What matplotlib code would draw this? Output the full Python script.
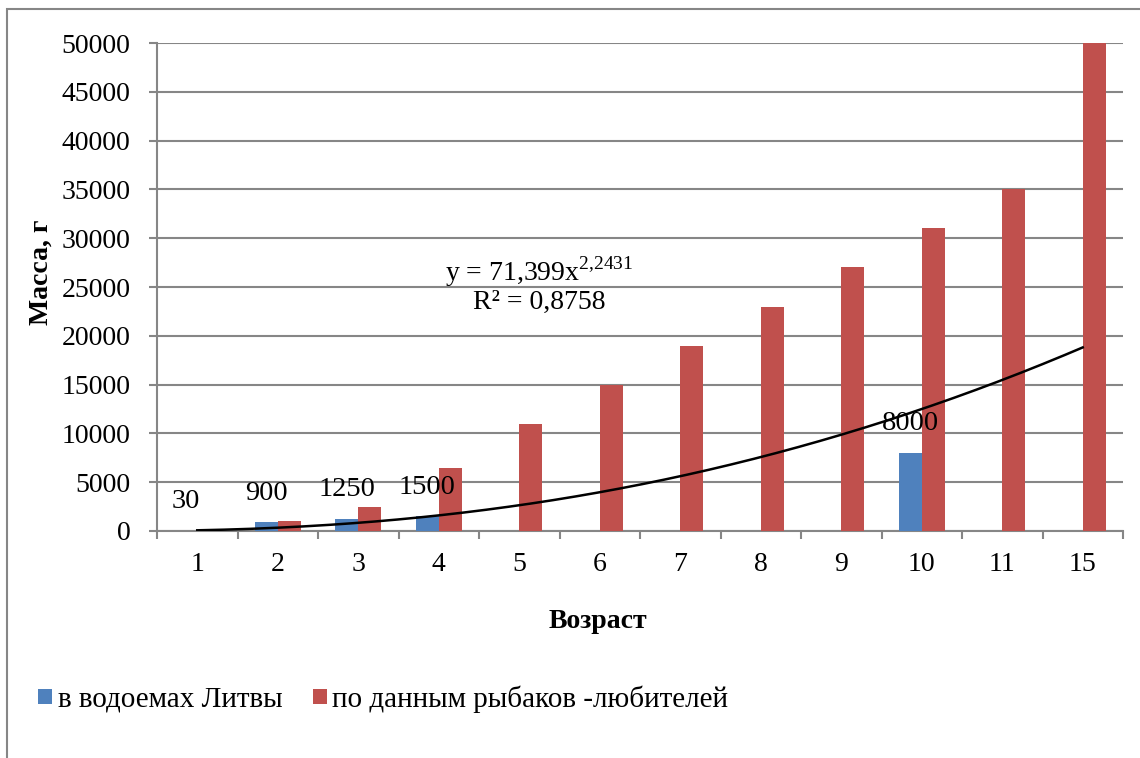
import numpy as np
import matplotlib
matplotlib.use("Agg")
import matplotlib.pyplot as plt
from matplotlib.patches import Rectangle

plt.rcParams['font.family'] = ['Liberation Serif', 'DejaVu Serif']
plt.rcParams['mathtext.fontset'] = 'custom'
plt.rcParams['mathtext.rm'] = 'Liberation Serif'

ages = ["1", "2", "3", "4", "5", "6", "7", "8", "9", "10", "11", "15"]
lithuania = [30, 900, 1250, 1500, np.nan, np.nan, np.nan, np.nan, np.nan, 8000, np.nan, np.nan]
anglers = [0, 1000, 2500, 6500, 11000, 15000, 19000, 23000, 27000, 31000, 35000, 50000]
series_names = ["в водоемах Литвы", "по данным рыбаков -любителей"]

BLUE = "#4F81BD"
RED = "#C0504D"
GRID = "#868686"

x = np.arange(1, len(ages) + 1)
w = 0.285

fig = plt.figure(figsize=(11.4, 7.58), dpi=100)
ax = fig.add_axes([157/1140, 1-531/758, 966/1140, 488/758])

ax.bar(x - w/2, lithuania, w, color=BLUE, label=series_names[0], zorder=3)
ax.bar(x + w/2, anglers, w, color=RED, label=series_names[1], zorder=3)

# data labels for the first series
for xi, v in zip(x, lithuania):
    if not np.isnan(v):
        ax.annotate(f"{v:.0f}", (xi - w/2, v), xytext=(0, 21), textcoords="offset points",
                    ha="center", va="center", fontsize=20.5, zorder=5)

# power trendline fitted on the first series (category index as x)
lx = np.array(lithuania)
mask = ~np.isnan(lx)
b, lna = np.polyfit(np.log(x[mask]), np.log(lx[mask]), 1)
a = np.exp(lna)
pred = a * x[mask] ** b
yl = np.log(lx[mask])
r2 = 1 - np.sum((yl - np.log(pred))**2) / np.sum((yl - yl.mean())**2)
xt = np.linspace(1, len(ages), 200)
ax.plot(xt, a * xt ** b, color="black", lw=1.8, zorder=4)

eq = f"y = {a:.3f}".replace(".", ",") + "x$^{\\mathrm{" + f"{b:.4f}".replace(".", "{,}") + "}}$"
ax.text(0.396, 0.531, eq, transform=ax.transAxes, ha="center", va="center", fontsize=20, zorder=5)
ax.text(0.396, 0.469, "R² = " + f"{r2:.4f}".replace(".", ","), transform=ax.transAxes,
        ha="center", va="center", fontsize=20, zorder=5)

ax.set_xlim(0.5, len(ages) + 0.5)
ax.set_ylim(0, 50000)
ax.set_yticks(np.arange(0, 50001, 5000))
ax.set_xticks(x)
ax.set_xticklabels(ages)
ax.set_xticks(np.arange(0.5, len(ages) + 1), minor=True)
ax.tick_params(axis="x", which="major", length=0, pad=15, labelsize=20)
ax.tick_params(axis="x", which="minor", length=6, width=1.5, color=GRID)
ax.tick_params(axis="y", length=6, width=1.5, color=GRID, pad=13, labelsize=20)

ax.yaxis.grid(True, color=GRID, lw=1.5, zorder=0)
ax.set_axisbelow(True)
for s in ["top", "right"]:
    ax.spines[s].set_visible(False)
for s in ["left", "bottom"]:
    ax.spines[s].set_color(GRID)
    ax.spines[s].set_linewidth(1.5)

ax.set_ylabel("Масса, г", fontsize=20, fontweight="bold")
ax.yaxis.set_label_coords(-0.107, 0.53)
fig.text(598/1140, 1-621/758, "Возраст", ha="center", va="center", fontsize=20, fontweight="bold")

fig.legend(loc="center left", bbox_to_anchor=(38/1140, 1-699/758), ncol=2, frameon=False,
           fontsize=21, handlelength=0.48, handleheight=0.45, handletextpad=0.2,
           columnspacing=1.03, borderaxespad=0, borderpad=0)

fig.patches.append(Rectangle((7/1140, -0.1), 1.2, 1.1 - 9/758, transform=fig.transFigure,
                             fill=False, edgecolor=GRID, lw=1.5))

fig.savefig("out.png", dpi=100)
